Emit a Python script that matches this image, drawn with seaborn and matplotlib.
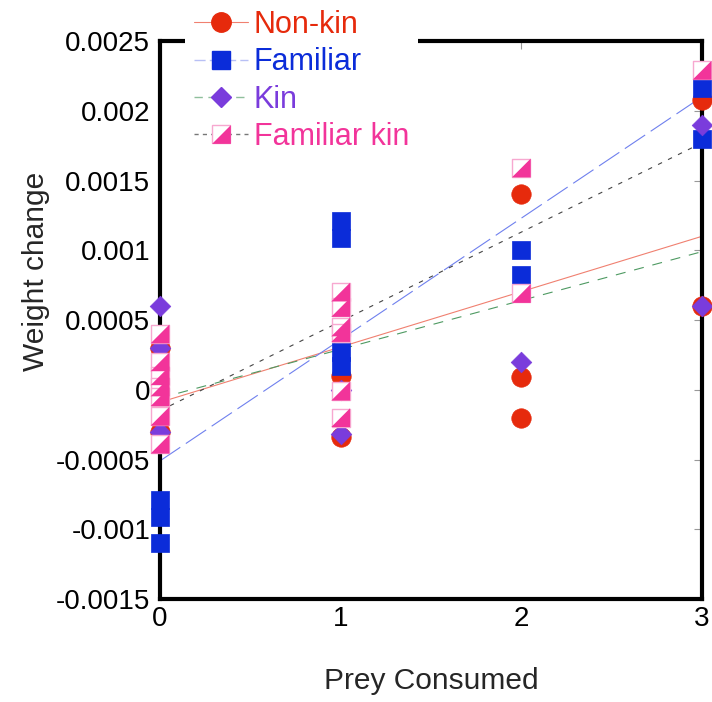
import numpy as np
import matplotlib
matplotlib.use("Agg")
import matplotlib.pyplot as plt
from matplotlib.lines import Line2D
from matplotlib.ticker import FuncFormatter, MultipleLocator
import seaborn as sns

# data
nonkin_x = [0, 0, 1, 1, 2, 2, 2, 3, 3]
nonkin_y = [-0.0003, 0.0003, 0.0001, -0.00034, 0.0014, 0.00009, -0.0002, 0.00208, 0.0006]

familiar_x = [0, 0, 0, 1, 1, 1, 1, 2, 2, 3, 3]
familiar_y = [-0.00079, -0.00091, -0.0011, 0.00121, 0.00109, 0.00027, 0.00017,
              0.001, 0.00082, 0.00216, 0.0018]

kin_x = [0, 0, 0, 1, 1, 2, 3, 3]
kin_y = [0.0006, 0.0003, -0.0003, 0.0, -0.00032, 0.0002, 0.0019, 0.0006]

famkin_x = [0, 0, 0, 0, 0, 0, 0, 1, 1, 1, 1, 1, 1, 2, 2, 3]
famkin_y = [0.0004, 0.0002, 0.0001, 0.00002, -0.00005, -0.00019, -0.00039,
            0.0007, 0.00059, 0.00045, 0.00041, -0.00001, -0.0002,
            0.00159, 0.00069, 0.00229]

# fitted trend lines (value at x=0 and x=3)
trend_x = [0, 3]
trend_nonkin = [-0.00009, 0.0011]
trend_familiar = [-0.00051, 0.0021]
trend_kin = [-0.00006, 0.00099]
trend_famkin = [-0.00015, 0.00177]

RED = "#E62A0C"
BLUE = "#0B2CD9"
PURPLE = "#7A3CDC"
PINK = "#F2349A"
PINK_EDGE = "#F7A8D0"

sns.set_style("white")
plt.rcParams["font.family"] = ["Liberation Sans", "DejaVu Sans"]

fig = plt.figure(figsize=(7.12, 7.02), dpi=100)
ax = fig.add_axes([160 / 712, 1 - 599 / 702, 542 / 712, 558 / 702])

ls_nonkin = "-"
ls_familiar = (0, (22, 6))
ls_kin = (0, (9, 8))
ls_famkin = (0, (4, 6))

sns.lineplot(x=trend_x, y=trend_nonkin, ax=ax, color="#F08070", lw=0.8, linestyle=ls_nonkin, zorder=2)
sns.lineplot(x=trend_x, y=trend_familiar, ax=ax, color="#6F80EE", lw=0.8, linestyle=ls_familiar, zorder=2)
sns.lineplot(x=trend_x, y=trend_kin, ax=ax, color="#4E9A62", lw=0.8, linestyle=ls_kin, zorder=2)
sns.lineplot(x=trend_x, y=trend_famkin, ax=ax, color="#444444", lw=0.8, linestyle=ls_famkin, zorder=2)

ms = 14.0
tri = [(1, -1), (1, 1), (-1, -1)]
sns.scatterplot(x=nonkin_x, y=nonkin_y, ax=ax, marker="o", s=ms ** 2, color=RED,
                edgecolor=RED, linewidth=0.5, clip_on=False, zorder=3)
sns.scatterplot(x=familiar_x, y=familiar_y, ax=ax, marker="s", s=(ms - 0.5) ** 2, color=BLUE,
                edgecolor=BLUE, linewidth=0.5, clip_on=False, zorder=4)
sns.scatterplot(x=kin_x, y=kin_y, ax=ax, marker="D", s=10.5 ** 2, color=PURPLE,
                edgecolor=PURPLE, linewidth=0.5, clip_on=False, zorder=5)
sns.scatterplot(x=famkin_x, y=famkin_y, ax=ax, marker="s", s=(ms - 0.5) ** 2, color="white",
                edgecolor=PINK_EDGE, linewidth=1.0, clip_on=False, zorder=6)
sns.scatterplot(x=famkin_x, y=famkin_y, ax=ax, marker=tri, s=(ms - 0.5) ** 2, color=PINK,
                edgecolor="none", linewidth=0, clip_on=False, zorder=7)

ax.set_xlim(0, 3)
ax.set_ylim(-0.0015, 0.0025)
ax.xaxis.set_major_locator(MultipleLocator(1))
ax.yaxis.set_major_locator(MultipleLocator(0.0005))
ax.yaxis.set_major_formatter(FuncFormatter(lambda v, p: f"{v:g}" if abs(v) > 1e-12 else "0"))
ax.tick_params(axis="both", which="major", direction="in", length=6, width=0.8,
               color="#999999", top=True, right=True, labelsize=20, labelcolor="black")
ax.tick_params(axis="x", pad=5)
ax.tick_params(axis="y", pad=7)

for sp in ax.spines.values():
    sp.set_visible(True)
    sp.set_color("black")
    sp.set_linewidth(3.0)

ax.set_xlabel("Prey Consumed", fontsize=21.5, labelpad=25)
ax.set_ylabel("Weight change", fontsize=21.5)
ax.yaxis.set_label_coords(-0.203, 0.588)

# legend handles
h_nonkin = Line2D([], [], color="#F08070", lw=0.8, ls=ls_nonkin, marker="o", ms=ms,
                  mfc=RED, mec=RED)
h_familiar = Line2D([], [], color="#B8C0F5", lw=1.0, ls=(0, (8, 3)), marker="s", ms=ms - 0.5,
                    mfc=BLUE, mec=BLUE)
h_kin = Line2D([], [], color="#8FBF9C", lw=1.0, ls=(0, (6, 4)), marker="D", ms=10.5,
               mfc=PURPLE, mec=PURPLE)
h_famkin_line = Line2D([], [], color="#777777", lw=1.0, ls=(0, (3, 3)))
h_famkin_sq = Line2D([], [], ls="none", marker="s", ms=ms - 0.5, mfc="white", mec=PINK_EDGE, mew=1.0)
h_famkin_tri = Line2D([], [], ls="none", marker=tri, ms=ms - 0.5, mfc=PINK, mec="none", mew=0)

leg = fig.legend([h_nonkin, h_familiar, h_kin, (h_famkin_line, h_famkin_sq, h_famkin_tri)],
                 ["Non-kin", "Familiar", "Kin", "Familiar kin"],
                 loc="upper left", bbox_to_anchor=(185 / 712, 1 - 1 / 702),
                 fontsize=22, frameon=True, fancybox=False, framealpha=1,
                 facecolor="white", edgecolor="none", borderpad=0.3, borderaxespad=0,
                 handlelength=1.75, handletextpad=0.2, labelspacing=0.24)
for txt, c in zip(leg.get_texts(), [RED, BLUE, PURPLE, PINK]):
    txt.set_color(c)

fig.savefig("out.png", dpi=100)
